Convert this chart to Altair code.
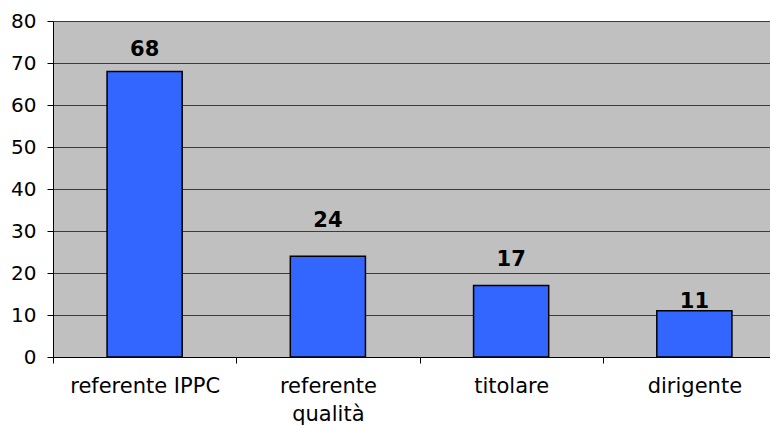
import altair as alt
import pandas as pd

categories = ["referente IPPC", "referente\nqualità", "titolare", "dirigente"]
values = [68, 24, 17, 11]
label_pos = [73.1, 32.5, 23.0, 13.2]  # where the value labels sit

df = pd.DataFrame({"cat": categories, "val": values, "lab": label_pos})

x = alt.X("cat:N", sort=categories, title=None,
          scale=alt.Scale(paddingInner=0, paddingOuter=0, range=[0, 733]),
          axis=alt.Axis(labelAngle=0, labelExpr="split(datum.label, '\\n')",
                        tickBand="extent", tickSize=6, tickColor="black",
                        domainColor="black", labelPadding=12, labelLineHeight=28,
                        labelFont="DejaVu Sans", labelFontSize=21, labelColor="black"))

bars = alt.Chart(df).mark_bar(color="#3366FF", stroke="black", strokeWidth=1.5,
                              width=alt.RelativeBandSize(0.41)).encode(
    x=x,
    y=alt.Y("val:Q", title=None,
            scale=alt.Scale(domain=[0, 80], nice=False),
            axis=alt.Axis(values=list(range(0, 81, 10)), tickSize=6, tickColor="black",
                          domainColor="black", gridColor="#3c3c3c", gridWidth=1.2,
                          labelFont="DejaVu Sans", labelFontSize=20, labelColor="black",
                          labelPadding=11)),
)

labels = alt.Chart(df).mark_text(font="DejaVu Sans", fontSize=21, fontWeight="bold",
                                 color="black", baseline="middle").encode(
    x=alt.X("cat:N", sort=categories),
    y=alt.Y("lab:Q"),
    text=alt.Text("val:Q"),
)

chart = (bars + labels).properties(
    width=717, height=336,
    padding={"left": 45, "top": 13, "right": 0, "bottom": 69},
    autosize=alt.AutoSizeParams(type="none"),
).configure_view(fill="#C0C0C0", stroke=None).configure_axis(grid=True).configure_axisX(grid=False)

chart.save("out.html", embed_options={"renderer": "svg", "actions": False})
